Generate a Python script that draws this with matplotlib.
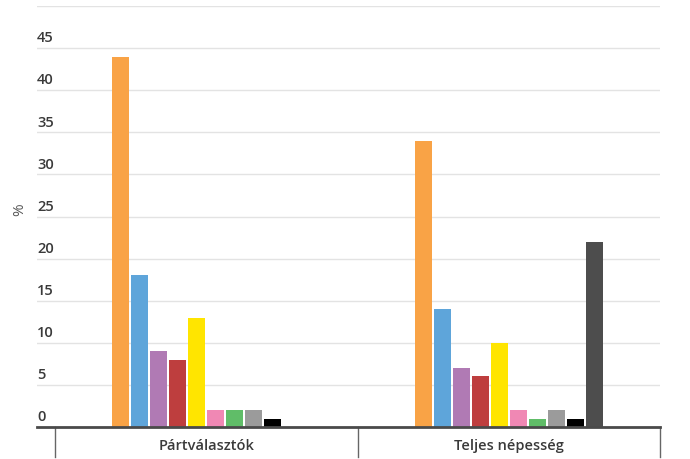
import numpy as np
import matplotlib
matplotlib.use("Agg")
import matplotlib.pyplot as plt
import matplotlib.transforms as mtransforms

# ---------------------------------------------------------------------------
# DATA
# ---------------------------------------------------------------------------
categories = ["Pártválasztók", "Teljes népesség"]
series_names = ["Sorozat 1", "Sorozat 2", "Sorozat 3", "Sorozat 4", "Sorozat 5",
                "Sorozat 6", "Sorozat 7", "Sorozat 8", "Sorozat 9", "Sorozat 10"]
series_colors = ["#F9A346", "#5EA5DA", "#B07AB4", "#BE3E3E", "#FFE500",
                 "#F088B4", "#60BD68", "#9B9B9B", "#000000", "#4D4D4D"]
values_partvalasztok = [44, 18, 9, 8, 13, 2, 2, 2, 1, 0]
values_teljes = [34, 14, 7, 6, 10, 2, 1, 2, 1, 22]
y_ticks = [0, 5, 10, 15, 20, 25, 30, 35, 40, 45, 50]

plt.rcParams["font.family"] = ["Open Sans", "DejaVu Sans"]

fig = plt.figure(figsize=(6.9, 4.6), dpi=100)
ax = fig.add_axes([37 / 690, 32 / 460, (660 - 37) / 690, (428 - 7) / 460])

x = np.arange(len(categories))
n = len(series_names)
pitch = 19 / 302
width = 17 / 302
all_values = np.array([values_partvalasztok, values_teljes])

for i in range(n):
    offs = (i - (n - 1) / 2) * pitch
    ax.bar(x + offs, all_values[:, i], width=width, color=series_colors[i],
           label=series_names[i], zorder=3)

ax.set_xlim(-0.5 - 18 / 302, 1.5)
ax.set_ylim(0, 50)

# gridlines
for t in y_ticks[1:]:
    ax.axhline(t, color="#e3e3e3", lw=1, zorder=1)

for s in ["top", "right", "left"]:
    ax.spines[s].set_visible(False)
ax.spines["bottom"].set_color("#4a4a4a")
ax.spines["bottom"].set_linewidth(2)
ax.spines["bottom"].set_zorder(4)

ax.set_xticks([])
ax.set_yticks([])

# y labels drawn above gridlines, left aligned (the top one is cut in the original too)
trans_y = mtransforms.blended_transform_factory(ax.transAxes, ax.transData)
for t in y_ticks:
    ax.text(0.0, t + 0.45, str(t), transform=trans_y, ha="left", va="bottom",
            fontsize=10.5, fontweight="semibold", color="#3a3a3a", clip_on=False)

fig.text(20 / 690, 1 - 210 / 460, "%", rotation=90, ha="center", va="center",
         fontsize=11, color="#555555")

# category separators and labels
trans_x = mtransforms.blended_transform_factory(ax.transData, ax.transAxes)
for b in [-0.5, 0.5, 1.5]:
    ax.plot([b, b], [0, -30 / 421], transform=trans_x, color="#666666",
            lw=1, clip_on=False, zorder=2)
for xi, c in zip(x, categories):
    ax.text(xi, -18 / 421, c, transform=trans_x, ha="center", va="center",
            fontsize=10.5, fontweight="semibold", color="#3a3a3a")

fig.savefig("out.png", dpi=100)
